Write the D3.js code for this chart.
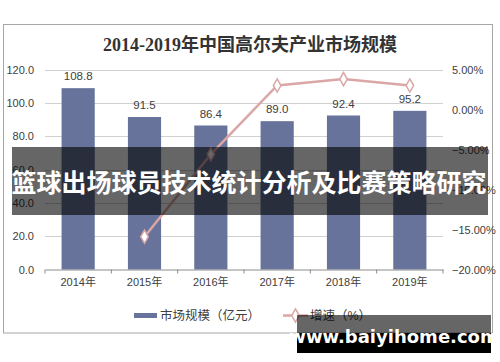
<!DOCTYPE html>
<html>
<head>
<meta charset="utf-8">
<script src="https://cdn.jsdelivr.net/npm/d3@7"></script>
<style>
  body { margin: 0; background: #fff; }
  svg text { font-family: "Liberation Sans", Arial, "Noto Sans CJK SC", sans-serif; }
</style>
</head>
<body>
<div id="chart"></div>
<script>
'use strict'

var years = ["2014年", "2015年", "2016年", "2017年", "2018年", "2019年"];
var marketSize = [108.8, 91.5, 86.4, 89.0, 92.4, 95.2];
var growth = [null, -15.9, -5.6, 3.0, 3.8, 3.0];
var leftTicks = [0, 20, 40, 60, 80, 100, 120];
var rightTicks = [-20, -15, -10, -5, 0, 5];

var width = 500, height = 362;

var svg = d3.select("#chart")
	.append("svg")
	.attr("width", width)
	.attr("height", height);

// cadre
svg.append("rect")
	.attr("x", 3.5).attr("y", 24.5)
	.attr("width", 489).attr("height", 308.5)
	.attr("fill", "#fff")
	.attr("stroke", "#a6a6a6");

svg.append("text")
	.attr("x", 250).attr("y", 51)
	.attr("text-anchor", "middle")
	.style("font-family", "'Liberation Serif', 'Noto Sans CJK SC', serif")
	.style("font-weight", "bold")
	.style("font-size", "18px")
	.style("fill", "#333")
	.text("2014-2019年中国高尔夫产业市场规模");

var x = d3.scaleBand()
	.domain(years)
	.range([45, 443])
	.paddingInner(0.5)
	.paddingOuter(0.25);

var xPoint = d3.scalePoint()
	.domain(years)
	.range([45, 443])
	.padding(0.5);

var y = d3.scaleLinear().domain([0, 120]).range([269.5, 69.5]);
var y2 = d3.scaleLinear().domain([-20, 5]).range([269.5, 69.5]);

// grille
svg.append("g")
	.selectAll("line")
	.data(leftTicks.slice(1))
	.enter()
	.append("line")
		.attr("x1", 45).attr("x2", 443)
		.attr("y1", d => Math.round(y(d)) + 0.5)
		.attr("y2", d => Math.round(y(d)) + 0.5)
		.attr("stroke", "#d0d0d0");

// axe gauche
var yAxis = svg.append("g")
	.attr("transform", "translate(34,0)")
	.call(d3.axisLeft(y).tickValues(leftTicks).tickFormat(d3.format(".1f")).tickSize(0).tickPadding(0));
yAxis.select(".domain").remove();
yAxis.selectAll("text").style("font-size", "11px").style("fill", "#404040");

// axe droit
var y2Axis = svg.append("g")
	.attr("transform", "translate(452,0)")
	.call(d3.axisRight(y2).tickValues(rightTicks).tickFormat(d => d3.format(".2f")(d) + "%").tickSize(0).tickPadding(0));
y2Axis.select(".domain").remove();
y2Axis.selectAll("text").style("font-size", "11px").style("fill", "#404040");

// barres
svg.append("g")
	.selectAll("rect")
	.data(marketSize)
	.enter()
	.append("rect")
		.attr("x", (d, i) => x(years[i]))
		.attr("y", d => y(d))
		.attr("width", x.bandwidth())
		.attr("height", d => y(0) - y(d))
		.attr("fill", "#67739a");

svg.append("g")
	.selectAll("text")
	.data(marketSize)
	.enter()
	.append("text")
		.attr("x", (d, i) => xPoint(years[i]))
		.attr("y", d => y(d) - 8)
		.attr("text-anchor", "middle")
		.style("font-size", "11.5px")
		.style("fill", "#404040")
		.text(d => d3.format(".1f")(d));

// axe x
var xAxis = svg.append("g")
	.attr("transform", "translate(0," + 269.5 + ")")
	.call(d3.axisBottom(x).tickSize(0).tickPadding(9));
xAxis.select(".domain").attr("stroke", "#8c8c8c");
xAxis.selectAll("text").style("font-size", "11px").style("fill", "#404040");
xAxis.selectAll(".sep")
	.data(d3.range(years.length + 1))
	.enter()
	.append("line")
		.attr("x1", i => 45 + i * x.step()).attr("x2", i => 45 + i * x.step())
		.attr("y1", 0).attr("y2", 4)
		.attr("stroke", "#8c8c8c");

// courbe de croissance
var pts = growth.map((g, i) => ({ year: years[i], g: g })).filter(d => d.g !== null);
var line = d3.line()
	.x(d => xPoint(d.year))
	.y(d => y2(d.g));

svg.append("path")
	.datum(pts)
	.attr("d", line)
	.attr("fill", "none")
	.attr("stroke", "#dba6a6")
	.attr("stroke-width", 2.5);

var diamond = d3.symbol().type(d3.symbolDiamond).size(50);
svg.append("g")
	.selectAll("path")
	.data(pts)
	.enter()
	.append("path")
		.attr("d", diamond)
		.attr("transform", d => "translate(" + xPoint(d.year) + "," + y2(d.g) + ")")
		.attr("fill", "#fff")
		.attr("stroke", "#dba6a6")
		.attr("stroke-width", 1.5);

// légende
var leg = svg.append("g");
leg.append("rect")
	.attr("x", 134).attr("y", 313)
	.attr("width", 23).attr("height", 5)
	.attr("fill", "#67739a");
leg.append("text")
	.attr("x", 160).attr("y", 320)
	.style("font-size", "12.5px")
	.style("fill", "#404040")
	.text("市场规模（亿元）");
leg.append("line")
	.attr("x1", 283).attr("x2", 308)
	.attr("y1", 315.5).attr("y2", 315.5)
	.attr("stroke", "#dba6a6")
	.attr("stroke-width", 2.5);
leg.append("path")
	.attr("d", diamond)
	.attr("transform", "translate(295.5,315.5)")
	.attr("fill", "#fff")
	.attr("stroke", "#dba6a6")
	.attr("stroke-width", 1.5);
leg.append("text")
	.attr("x", 310).attr("y", 320)
	.style("font-size", "12.5px")
	.style("fill", "#404040")
	.text("增速（%）");

// bandeau
svg.append("rect")
	.attr("x", 12).attr("y", 147)
	.attr("width", 476).attr("height", 68)
	.attr("fill", "rgba(0,0,0,0.6)");
svg.append("text")
	.attr("x", 249).attr("y", 192)
	.attr("text-anchor", "middle")
	.style("font-family", "'Noto Sans CJK SC', sans-serif")
	.style("font-weight", "bold")
	.style("font-size", "25px")
	.style("fill", "#fff")
	.text("篮球出场球员技术统计分析及比赛策略研究");

// filigrane
svg.append("rect")
	.attr("x", 297).attr("y", 315)
	.attr("width", 194).attr("height", 18)
	.attr("fill", "rgba(0,0,0,0.6)");
svg.append("rect")
	.attr("x", 297).attr("y", 333)
	.attr("width", 194).attr("height", 20)
	.attr("fill", "#000");
svg.append("text")
	.attr("x", 394).attr("y", 343)
	.attr("text-anchor", "middle")
	.style("font-family", "'DejaVu Sans', sans-serif")
	.style("font-weight", "bold")
	.style("font-size", "18px")
	.style("fill", "#fff")
	.text("www.baiyihome.com");
</script>
</body>
</html>
